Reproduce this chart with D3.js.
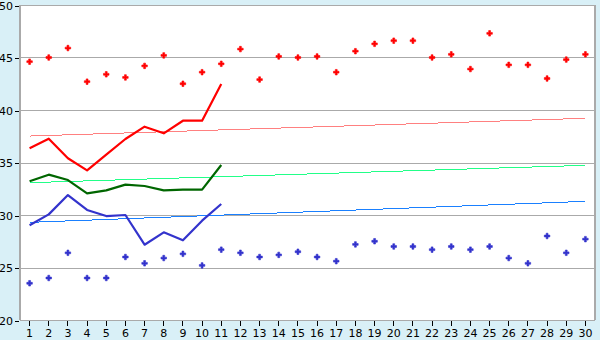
<!DOCTYPE html>
<html>
<head>
<meta charset="utf-8">
<script src="https://cdn.jsdelivr.net/npm/d3@7"></script>
<style>
	body { margin: 0; background: #d9f0f7; }
	.axis text { font-family: 'DejaVu Sans', Verdana, sans-serif; font-size: 11px; fill: #000; }
	.axis line { stroke: #000; shape-rendering: crispEdges; }
	.axis path { display: none; }
</style>
</head>
<body>
<div id="chart"></div>
<script>

// day numbers along the bottom
var days = [1, 2, 3, 4, 5, 6, 7, 8, 9, 10, 11, 12, 13, 14, 15, 16, 17, 18, 19, 20, 21, 22, 23, 24, 25, 26, 27, 28, 29, 30];
var yTicks = [20, 25, 30, 35, 40, 45, 50];

// scattered daily highs / lows
var highDots = [44.6, 45.0, 45.9, 42.7, 43.4, 43.1, 44.2, 45.2, 42.5, 43.6, 44.4, 45.8, 42.9, 45.1, 45.0, 45.1, 43.6, 45.6, 46.3, 46.6, 46.6, 45.0, 45.3, 43.9, 47.3, 44.3, 44.3, 43.0, 44.8, 45.3];
var lowDots = [23.5, 24.0, 26.4, 24.0, 24.0, 26.0, 25.4, 25.9, 26.3, 25.2, 26.7, 26.4, 26.0, 26.2, 26.5, 26.0, 25.6, 27.2, 27.5, 27.0, 27.0, 26.7, 27.0, 26.7, 27.0, 25.9, 25.4, 28.0, 26.4, 27.7];

// the three lines only run for the first 11 days
var redLine = [36.35, 37.27, 35.4, 34.25, 35.75, 37.24, 38.41, 37.78, 38.98, 38.98, 42.48];
var greenLine = [33.21, 33.84, 33.33, 32.06, 32.35, 32.89, 32.76, 32.35, 32.41, 32.41, 34.76];
var blueLine = [29.02, 30.06, 31.9, 30.48, 29.9, 30.0, 27.17, 28.35, 27.59, 29.46, 31.05];

// trend lines, value at day 1 and day 30
var trendDays = [1, 30];
var redTrend = [37.52, 39.21];
var greenTrend = [33.08, 34.73];
var blueTrend = [29.3, 31.3];


var width = 600, height = 340;
var plotLeft = 20, plotRight = 595, plotTop = 5, plotBottom = 320;

var svg = d3.select('#chart')
				.append('svg')
					.attr('width', width)
					.attr('height', height);

var x = d3.scaleBand()
			.domain(days)
			.range([plotLeft, plotRight]);

var y = d3.scaleLinear()
			.domain([20, 50])
			.range([plotBottom, plotTop]);

function xPos(d) { return x(d) + x.bandwidth() / 2; }


function appendLine(svgInput, x1, x2, y1, y2, color, strokeWidth) {

	svgInput.append('line')
			.attr('x1', x1)
			.attr('x2', x2)
			.attr('y1', y1)
			.attr('y2', y2)
			.style('stroke', color)
			.style('stroke-width', strokeWidth)
			.style('shape-rendering', 'crispEdges');
};


function appendSeries(svgInput, dayInput, valueInput, color, strokeWidth, crisp) {

	var line = d3.line()
					.x(function(d, i) { return xPos(dayInput[i]); })
					.y(function(d) { return y(d); });

	svgInput.append('path')
			.datum(valueInput)
			.attr('d', line)
			.style('fill', 'none')
			.style('stroke', color)
			.style('stroke-width', strokeWidth)
			.style('stroke-linejoin', 'round')
			.style('shape-rendering', crisp ? 'crispEdges' : 'auto');
};


function appendDots(svgInput, valueInput, color) {

	svgInput.selectAll(null)
			.data(valueInput)
			.enter()
			.append('path')
				.attr('d', d3.symbol().type(d3.symbolCross).size(17))
				.attr('transform', function(d, i) { return 'translate(' + xPos(days[i]) + ',' + y(d) + ')'; })
				.style('fill', color)
				.style('stroke', color)
				.style('stroke-width', 0.6);
};


// white plot area
svg.append('rect')
		.attr('x', plotLeft)
		.attr('y', plotTop)
		.attr('width', plotRight - plotLeft)
		.attr('height', plotBottom - plotTop)
		.style('fill', '#ffffff');

// grid lines
yTicks.forEach(function(t) {
	appendLine(svg, plotLeft, plotRight, Math.round(y(t)) + 0.5, Math.round(y(t)) + 0.5, '#aaaaaa', 1);
});

// frame left / right
appendLine(svg, plotLeft, plotLeft, plotTop, plotBottom, '#aaaaaa', 2);
appendLine(svg, plotRight, plotRight, plotTop, plotBottom, '#aaaaaa', 2);

// axes
svg.append('g')
		.attr('class', 'axis')
		.attr('transform', 'translate(' + (plotLeft - 1) + ',0.5)')
		.call(d3.axisLeft(y).tickValues(yTicks).tickSize(4).tickPadding(2));

svg.append('g')
		.attr('class', 'axis')
		.attr('transform', 'translate(0,' + (plotBottom + 1) + ')')
		.call(d3.axisBottom(x).tickSize(5).tickPadding(3));

// trend lines
appendSeries(svg, trendDays, redTrend, '#ff8080', 1, true);
appendSeries(svg, trendDays, greenTrend, '#22ff88', 1, true);
appendSeries(svg, trendDays, blueTrend, '#1a80ff', 1, true);

// main lines
appendSeries(svg, days, redLine, '#ff0000', 2.2, false);
appendSeries(svg, days, greenLine, '#006600', 2.2, false);
appendSeries(svg, days, blueLine, '#3333cc', 2.2, false);

// scatter
appendDots(svg, highDots, '#ff0000');
appendDots(svg, lowDots, '#3333cc');

</script>
</body>
</html>
